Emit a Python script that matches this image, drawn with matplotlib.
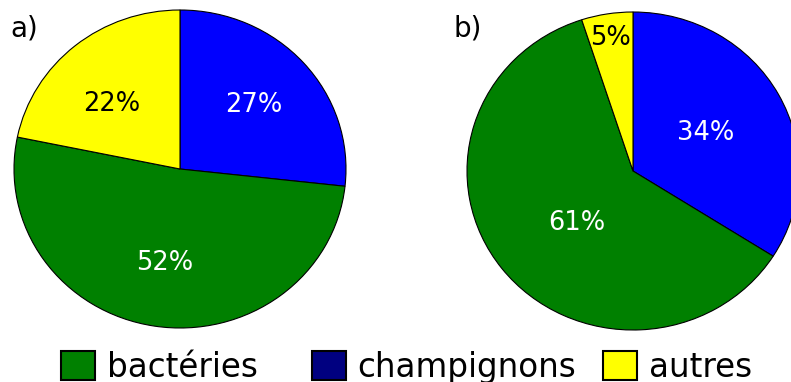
import matplotlib.pyplot as plt
import numpy as np

# data
categories = ['champignons', 'bactéries', 'autres']
values_a = [27, 52, 22]
values_b = [34, 61, 5]
pie_colors = ['#0000ff', '#008000', '#ffff00']
text_colors = ['white', 'white', 'black']

legend_labels = ['bactéries', 'champignons', 'autres']
legend_colors = ['#008000', '#000080', '#ffff00']

W, H = 791, 382
fig = plt.figure(figsize=(W / 100, H / 100), dpi=100)


def draw_pie(ax, values, pctdist):
    wedges, _, autotexts = ax.pie(values, colors=pie_colors, startangle=90,
                                  counterclock=False, autopct='%d',
                                  pctdistance=pctdist,
                                  wedgeprops=dict(edgecolor='black', linewidth=0.8))
    for t, v, c in zip(autotexts, values, text_colors):
        t.set_text(f'{v}%')
        t.set_color(c)
        t.set_fontsize(18.5)
    ax.set_aspect('auto')
    ax.set_xlim(-1, 1)
    ax.set_ylim(-1, 1)
    return autotexts


def move_label(t, r_new, dtheta=0.0):
    # move a label along / around its wedge
    x, y = t.get_position()
    th = np.arctan2(y, x) + np.radians(dtheta)
    t.set_position((r_new * np.cos(th), r_new * np.sin(th)))


# left pie
ax1 = fig.add_axes([14 / W, (H - 328) / H, 332 / W, 318 / H])
at1 = draw_pie(ax1, values_a, 0.6)
move_label(at1[2], 0.58, 6)

# right pie (cut at figure edge)
ax2 = fig.add_axes([467 / W, (H - 330) / H, 332 / W, 318 / H])
at2 = draw_pie(ax2, values_b, 0.5)
move_label(at2[1], 0.47, 6)
move_label(at2[2], 0.85)

fig.text(10 / W, 1 - 28 / H, 'a)', fontsize=20, va='center', ha='left')
fig.text(453 / W, 1 - 28 / H, 'b)', fontsize=20, va='center', ha='left')

# legend, one entry at a time
leg_x = [61, 312, 603]
for lx, lab, col in zip(leg_x, legend_labels, legend_colors):
    h = plt.Rectangle((0, 0), 1, 1, facecolor=col, edgecolor='black', linewidth=1.5)
    fig.legend([h], [lab], loc='lower left', bbox_to_anchor=(lx / W, -2 / H),
               frameon=False, fontsize=23.5, borderpad=0, borderaxespad=0,
               handlelength=1.05, handleheight=1.0, handletextpad=0.35)

fig.savefig('out.png', dpi=100)
